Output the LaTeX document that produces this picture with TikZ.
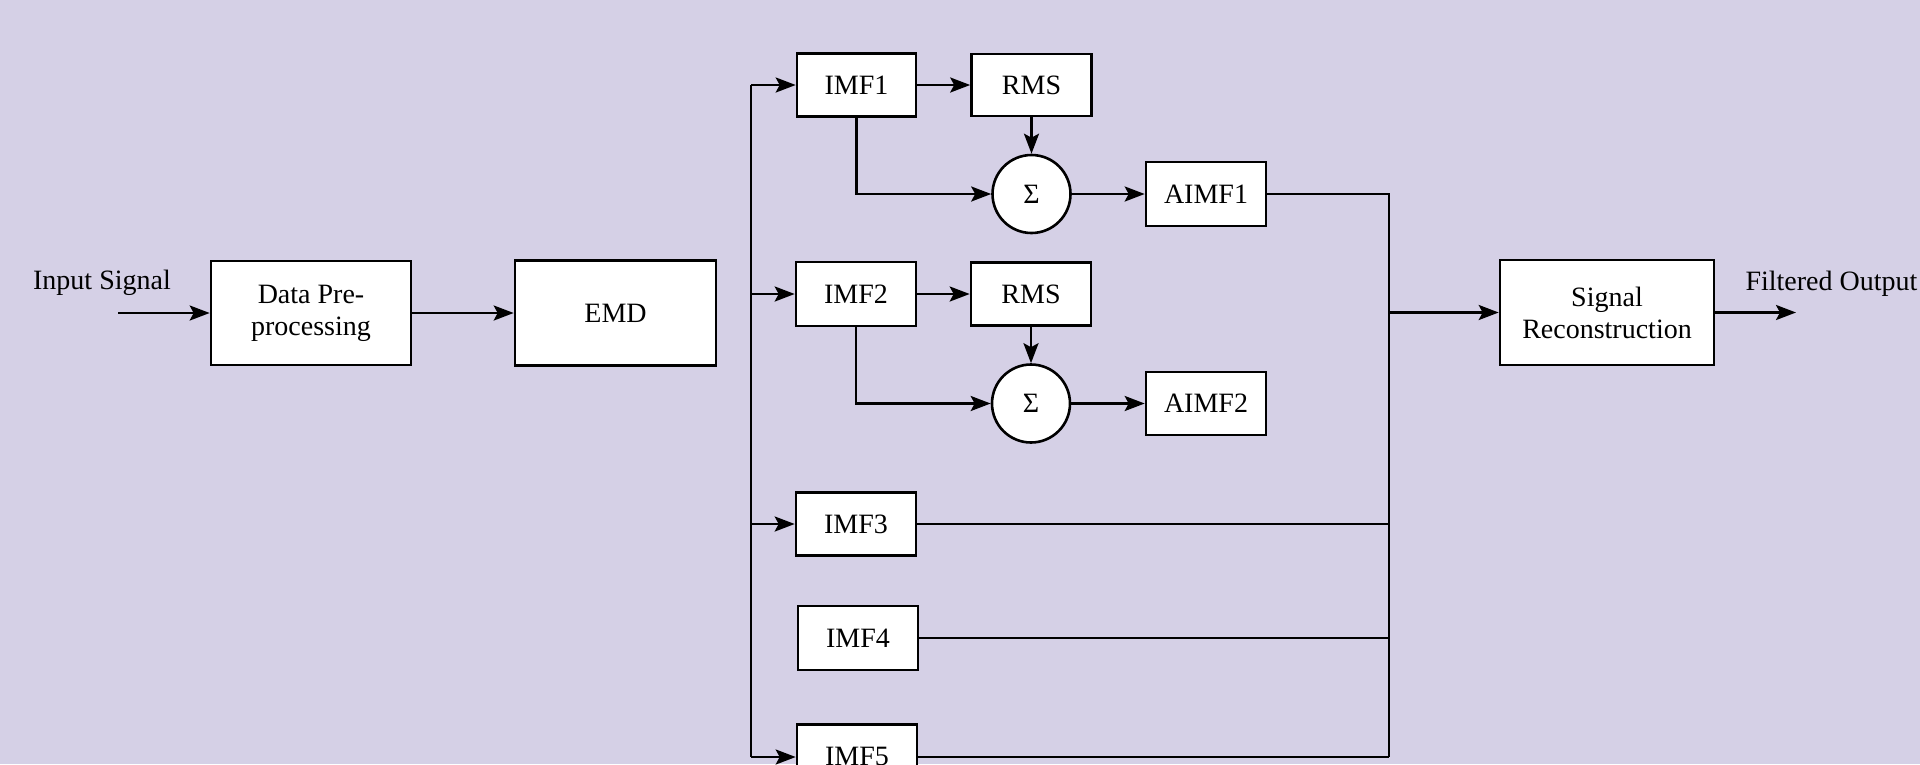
\documentclass[tikz,border=0pt]{standalone}
\usepackage{fontspec}
\setmainfont{Liberation Serif}
\usetikzlibrary{arrows.meta}
\definecolor{bgc}{HTML}{D5D0E6}
\begin{document}
\begin{tikzpicture}[x=1pt,y=-1pt,
  every node/.style={font=\fontsize{28}{32}\selectfont},
  blk/.style={draw=black,fill=white,line width=2.6pt,align=center,inner sep=0pt},
  sumc/.style={draw=black,fill=white,line width=2.6pt,circle,minimum size=78pt,inner sep=0pt},
  ln/.style={line width=2.6pt},
  arr/.style={line width=2.6pt,-{Stealth[length=20pt,width=15pt,inset=4pt]}}]
\fill[bgc] (0,0) rectangle (1920,764);
\clip (0,0) rectangle (1920,764);
\useasboundingbox (0,0) rectangle (1920,764);
% nodes
\node (insig) at (102,283) {Input Signal};
\node[blk,minimum width=200pt,minimum height=104pt] (dp) at (311,313) {Data Pre-\\processing};
\node[blk,minimum width=201pt,minimum height=105pt] (emd) at (615.5,313) {EMD};
\node[blk,minimum width=119pt,minimum height=63pt] (imf1) at (856.5,85) {IMF1};
\node[blk,minimum width=120pt,minimum height=62pt] (rms1) at (1031.5,85) {RMS};
\node[sumc] (sig1) at (1031.5,194) {Σ};
\node[blk,minimum width=120pt,minimum height=64pt] (aimf1) at (1206,194) {AIMF1};
\node[blk,minimum width=120pt,minimum height=64pt] (imf2) at (856,294) {IMF2};
\node[blk,minimum width=120pt,minimum height=63pt] (rms2) at (1031,294) {RMS};
\node[sumc] (sig2) at (1031,403.5) {Σ};
\node[blk,minimum width=120pt,minimum height=63pt] (aimf2) at (1206,403.5) {AIMF2};
\node[blk,minimum width=120pt,minimum height=63pt] (imf3) at (856,524) {IMF3};
\node[blk,minimum width=120pt,minimum height=64pt] (imf4) at (858,638) {IMF4};
\node[blk,minimum width=120pt,minimum height=63pt] (imf5) at (857,756) {IMF5};
\node[blk,minimum width=214pt,minimum height=105pt] (sr) at (1607,312.5) {Signal\\Reconstruction};
\node[anchor=west] (fo) at (1742,284) {Filtered Output};
% coordinates
\coordinate (in) at (118,313);
\coordinate (lbt) at (751,85);
\coordinate (lbb) at (751,757);
\coordinate (rbb) at (1389,757);
\coordinate (rj) at (1389,312.5);
\coordinate (out) at (1796,312.5);
% connectors
\draw[arr] (in) -- (dp.west);
\draw[arr] (dp.east) -- (emd.west);
\draw[ln] (lbt) -- (lbb);
\draw[arr] (lbt) -- (imf1.west);
\draw[arr] (imf2.west -| lbt) -- (imf2.west);
\draw[arr] (imf3.west -| lbt) -- (imf3.west);
\draw[arr] (lbb) -- (lbb -| imf5.west);
\draw[arr] (imf1.east) -- (rms1.west);
\draw[arr] (rms1.south) -- (sig1.north);
\draw[arr] (imf1.south) |- (sig1.west);
\draw[arr] (sig1.east) -- (aimf1.west);
\draw[arr] (imf2.east) -- (rms2.west);
\draw[arr] (rms2.south) -- (sig2.north);
\draw[arr] (imf2.south) |- (sig2.west);
\draw[arr] (sig2.east) -- (aimf2.west);
\draw[ln] (aimf1.east) -| (rbb);
\draw[ln] (imf3.east) -- (imf3.east -| rbb);
\draw[ln] (imf4.east) -- (imf4.east -| rbb);
\draw[ln] (lbb -| imf5.east) -- (rbb);
\draw[arr] (rj) -- (sr.west);
\draw[arr] (sr.east) -- (out);
\end{tikzpicture}
\end{document}
